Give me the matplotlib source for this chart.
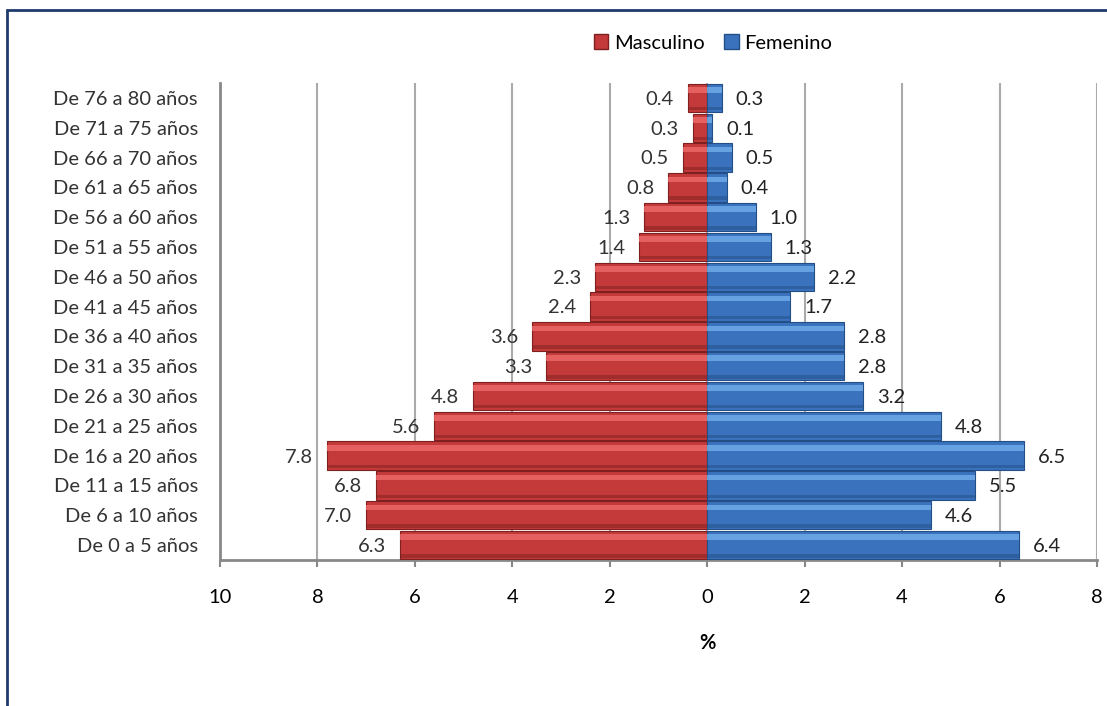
import numpy as np
from matplotlib import pyplot as plt
from matplotlib.patches import Rectangle, Patch

# age groups from youngest (bottom) to oldest (top)
grupos = ["De 0 a 5 años", "De 6 a 10 años", "De 11 a 15 años", "De 16 a 20 años",
          "De 21 a 25 años", "De 26 a 30 años", "De 31 a 35 años", "De 36 a 40 años",
          "De 41 a 45 años", "De 46 a 50 años", "De 51 a 55 años", "De 56 a 60 años",
          "De 61 a 65 años", "De 66 a 70 años", "De 71 a 75 años", "De 76 a 80 años"]
masculino = [6.3, 7.0, 6.8, 7.8, 5.6, 4.8, 3.3, 3.6, 2.4, 2.3, 1.4, 1.3, 0.8, 0.5, 0.3, 0.4]
femenino = [6.4, 4.6, 5.5, 6.5, 4.8, 3.2, 2.8, 2.8, 1.7, 2.2, 1.3, 1.0, 0.4, 0.5, 0.1, 0.3]
xticks = [-10, -8, -6, -4, -2, 0, 2, 4, 6, 8]

plt.rcParams['font.family'] = ['Lato', 'DejaVu Sans']
FS = 14.5

RED, RED_HI, RED_EDGE = "#C43A3A", "#EE6A6A", "#7E2020"
BLUE, BLUE_HI, BLUE_EDGE = "#3A72BE", "#72AEEA", "#244F86"

fig = plt.figure(figsize=(11.07, 7.06), dpi=100)
ax = fig.add_axes([220/1107, 1 - 560/706, (1097 - 220)/1107, (560 - 83)/706])

y = np.arange(len(grupos))
m = -np.array(masculino)
f = np.array(femenino)
h = 0.95

# main bars
ax.barh(y, m, height=h, color=RED, edgecolor=RED_EDGE, linewidth=0.8, zorder=3)
ax.barh(y, f, height=h, color=BLUE, edgecolor=BLUE_EDGE, linewidth=0.8, zorder=3)
# bevel highlight
ax.barh(y + h*0.28, m, height=h*0.2, color=RED_HI, linewidth=0, zorder=4, alpha=0.8)
ax.barh(y + h*0.28, f, height=h*0.2, color=BLUE_HI, linewidth=0, zorder=4, alpha=0.8)
ax.barh(y - h*0.38, m, height=h*0.12, color=RED_EDGE, linewidth=0, zorder=4, alpha=0.5)
ax.barh(y - h*0.38, f, height=h*0.12, color=BLUE_EDGE, linewidth=0, zorder=4, alpha=0.5)

for yi, v in zip(y, masculino):
    ax.annotate(f"{v:.1f}", (-v, yi), xytext=(-10, -1), textcoords="offset points",
                ha="right", va="center", fontsize=FS, color="#333333", zorder=5)
for yi, v in zip(y, femenino):
    ax.annotate(f"{v:.1f}", (v, yi), xytext=(10, -1), textcoords="offset points",
                ha="left", va="center", fontsize=FS, color="#222222", zorder=5)

ax.set_xlim(-10, 8)
ax.set_ylim(-0.5, 15.5)
ax.set_xticks(xticks)
ax.set_xticklabels([str(abs(t)) for t in xticks], fontsize=FS)
ax.set_yticks(y)
ax.set_yticklabels(grupos, fontsize=FS, color="#333333")
ax.tick_params(axis="y", length=0, pad=16)
ax.tick_params(axis="x", length=5, width=1.5, color="#888888", pad=16, direction="out")
ax.xaxis.grid(True, color="#AAAAAA", linewidth=1.5, zorder=0)
ax.set_axisbelow(True)
for s in ["top", "right"]:
    ax.spines[s].set_visible(False)
for s in ["left", "bottom"]:
    ax.spines[s].set_color("#888888")
    ax.spines[s].set_linewidth(2)
ax.set_xlabel("%", fontsize=FS, fontweight="bold")
ax.xaxis.set_label_coords(10/18, -(643 - 560)/(560 - 83))
ax.xaxis.label.set_va("center")

handles = [Patch(facecolor=RED, edgecolor=RED_EDGE), Patch(facecolor=BLUE, edgecolor=BLUE_EDGE)]
fig.legend(handles, ["Masculino", "Femenino"], loc="center", bbox_to_anchor=(713/1107, 1 - 43/706),
           ncol=2, frameon=False, fontsize=FS, handlelength=0.7, handleheight=0.7,
           handletextpad=0.3, columnspacing=1.0)

# outer chart border
fig.patches.append(Rectangle((7/1107, -0.1), 1.2, 1 - 10/706 + 0.1, transform=fig.transFigure,
                             fill=False, edgecolor="#1F3A6E", linewidth=2))

fig.savefig("out.png", dpi=100)
